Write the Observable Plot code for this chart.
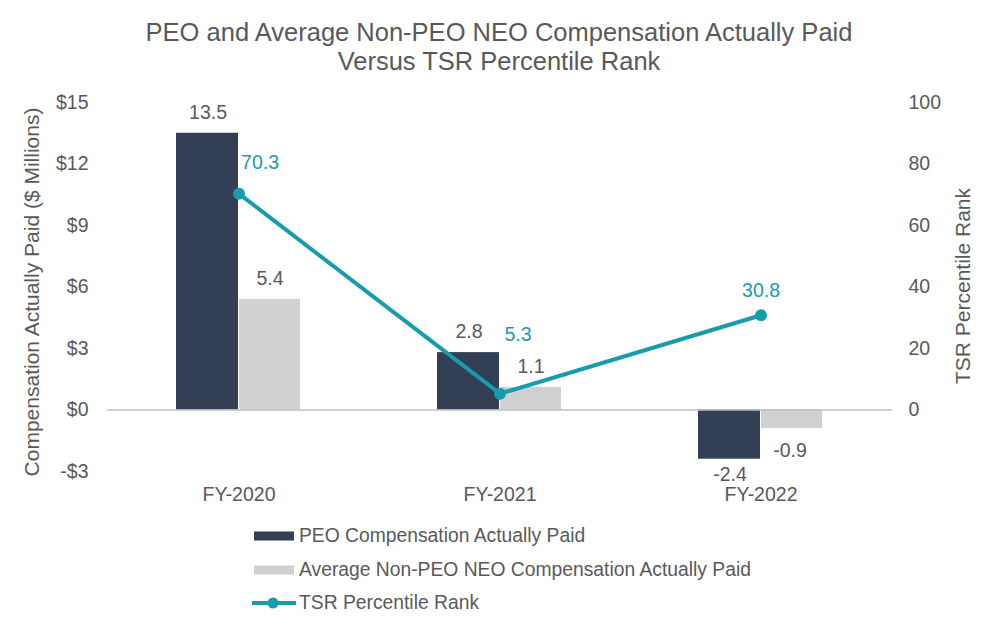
<!DOCTYPE html>
<html>
<head>
<meta charset="utf-8">
<script src="https://cdn.jsdelivr.net/npm/d3@7"></script>
<script src="https://cdn.jsdelivr.net/npm/@observablehq/plot@0.6"></script>
<style>
  html, body { margin: 0; padding: 0; background: #fff; }
  body { width: 998px; height: 632px; position: relative; font-family: "Liberation Sans", Arial, sans-serif; color: #595959; overflow: hidden; }
  #title { position: absolute; left: 0; top: 18px; width: 998px; text-align: center; font-size: 25.5px; line-height: 29px; color: #595959; }
  #chart { position: absolute; left: 0; top: 80px; }
  #legend { position: absolute; left: 252px; top: 519px; font-size: 19.3px; color: #595959; }
  .row { display: flex; align-items: center; height: 33.7px; }
  .row svg { margin-right: 3px; }
</style>
</head>
<body>
<div id="title">PEO and Average Non-PEO NEO Compensation Actually Paid<br>Versus TSR Percentile Rank</div>
<div id="chart"></div>
<div id="legend"></div>
<script>
const years = ["FY-2020", "FY-2021", "FY-2022"];
const peo = [13.5, 2.8, -2.4];
const nonPeo = [5.4, 1.1, -0.9];
const tsr = [70.3, 5.3, 30.8];
const compTicks = [-3, 0, 3, 6, 9, 12, 15];
const tsrTicks = [0, 20, 40, 60, 80, 100];
const seriesNames = ["PEO Compensation Actually Paid", "Average Non-PEO NEO Compensation Actually Paid", "TSR Percentile Rank"];

const colPeo = "#333F55";
const colNon = "#D0D0D2";
const colTsr = "#169CAA";
const textCol = "#595959";
const fs = 19.5;
const k = 15 / 100; // TSR -> comp axis scale

const data = years.map((y, i) => ({year: y, peo: peo[i], non: nonPeo[i], tsr: tsr[i], i}));

const chart = Plot.plot({
  width: 998,
  height: 430,
  marginLeft: 107,
  marginRight: 106,
  marginTop: 22,
  marginBottom: 39,
  style: {fontFamily: "'Liberation Sans', Arial, sans-serif", fontSize: fs + "px", color: textCol, background: "#fff"},
  x: {type: "band", domain: years, padding: 0, axis: null},
  y: {domain: [-3, 15], axis: null},
  marks: [
    Plot.barY(data, {x: "year", y: "peo", fill: colPeo, insetLeft: 68, insetRight: 131}),
    Plot.barY(data, {x: "year", y: "non", fill: colNon, insetLeft: 131, insetRight: 69}),
    Plot.ruleY([0], {stroke: "#BFBFBF", strokeWidth: 1.5}),
    Plot.axisY({anchor: "left", ticks: compTicks, tickSize: 0, tickPadding: 19, label: null,
      tickFormat: d => (d < 0 ? "-$" : "$") + Math.abs(d), fontSize: fs, fill: textCol}),
    Plot.axisY({anchor: "right", ticks: tsrTicks.map(v => v * k), tickSize: 0, tickPadding: 16, label: null,
      tickFormat: d => String(Math.round(d / k)), fontSize: fs, fill: textCol}),
    Plot.axisX({anchor: "bottom", tickSize: 0, tickPadding: 16, label: null, fontSize: fs, fill: textCol}),
    Plot.text(["Compensation Actually Paid ($ Millions)"], {frameAnchor: "left", textAnchor: "middle", dx: -75, dy: 5, rotate: -90, fontSize: 21, fill: textCol}),
    Plot.text(["TSR Percentile Rank"], {frameAnchor: "right", textAnchor: "middle", dx: 71, dy: -1, rotate: -90, fontSize: 21, fill: textCol}),
    // bar labels
    Plot.text(data.filter(d => d.peo >= 0), {x: "year", y: "peo", text: d => d.peo.toFixed(1), dx: -31, dy: -21, fontSize: fs, fill: textCol}),
    Plot.text(data.filter(d => d.peo < 0), {x: "year", y: "peo", text: d => d.peo.toFixed(1), dx: -31, dy: 16, fontSize: fs, fill: textCol}),
    Plot.text(data.filter(d => d.non >= 0), {x: "year", y: "non", text: d => d.non.toFixed(1), dx: 31, dy: -21, fontSize: fs, fill: textCol}),
    Plot.text(data.filter(d => d.non < 0), {x: "year", y: "non", text: d => d.non.toFixed(1), dx: 29, dy: 22, fontSize: fs, fill: textCol}),
    // TSR line
    Plot.line(data, {x: "year", y: d => d.tsr * k, stroke: colTsr, strokeWidth: 4}),
    Plot.dot(data, {x: "year", y: d => d.tsr * k, fill: colTsr, r: 6}),
    Plot.text(data.filter(d => d.i === 0), {x: "year", y: d => d.tsr * k, text: d => d.tsr.toFixed(1), dx: 21, dy: -31, fontSize: fs, fill: colTsr}),
    Plot.text(data.filter(d => d.i === 1), {x: "year", y: d => d.tsr * k, text: d => d.tsr.toFixed(1), dx: 18, dy: -59, fontSize: fs, fill: colTsr}),
    Plot.text(data.filter(d => d.i === 2), {x: "year", y: d => d.tsr * k, text: d => d.tsr.toFixed(1), dx: 0, dy: -25, fontSize: fs, fill: colTsr})
  ]
});
document.getElementById("chart").appendChild(chart);

const legend = document.getElementById("legend");
const swatches = [
  `<svg width="44" height="12"><rect x="2" y="1.5" width="40" height="9" fill="${colPeo}"/></svg>`,
  `<svg width="44" height="12"><rect x="2" y="1.5" width="40" height="9" fill="${colNon}"/></svg>`,
  `<svg width="44" height="12"><line x1="0" y1="6" x2="44" y2="6" stroke="${colTsr}" stroke-width="4"/><circle cx="21" cy="6" r="5.5" fill="${colTsr}"/></svg>`
];
seriesNames.forEach((name, i) => {
  const row = document.createElement("div");
  row.className = "row";
  row.innerHTML = swatches[i] + `<span>${name}</span>`;
  legend.appendChild(row);
});
</script>
</body>
</html>
